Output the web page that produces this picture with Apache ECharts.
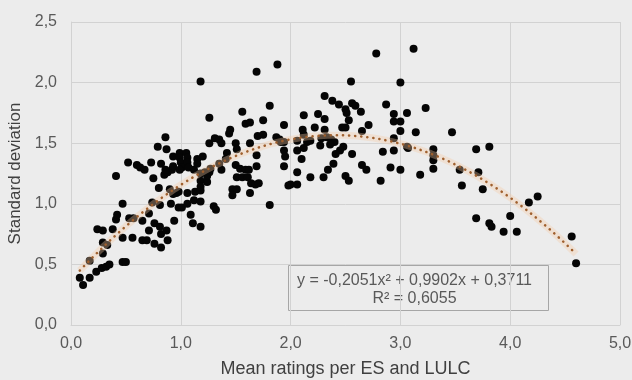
<!DOCTYPE html>
<html>
<head>
<meta charset="utf-8">
<script src="https://cdn.jsdelivr.net/npm/echarts@6/dist/echarts.min.js"></script>
<style>
  html, body { margin: 0; padding: 0; background: #ececec; }
  #chart { width: 632px; height: 380px; }
</style>
</head>
<body>
<div id="chart"></div>
<script>
// Mean rating (x) and standard deviation (y) per ES / LULC combination
const ratingsLow = [
  [0.08,0.39],[0.11,0.33],[0.17,0.39],[0.17,0.53],[0.23,0.44],[0.28,0.47],[0.32,0.48],[0.35,0.50],
  [0.24,0.79],[0.29,0.78],[0.29,0.68],[0.33,0.66],[0.29,0.59],[0.38,0.79],[0.41,0.87],[0.42,0.91],
  [0.47,1.00],[0.47,0.72],[0.47,0.52],[0.50,0.52],[0.41,1.23],[0.52,1.34],
  [0.56,0.72],[0.53,0.88],[0.57,0.88],[0.65,0.86],[0.71,0.92],[0.65,0.70],[0.69,0.70],[0.71,0.78],
  [0.76,0.84],[0.76,0.67],[0.82,0.64],[0.81,0.81],[0.82,0.75],[0.87,0.78],[0.88,0.70],[0.74,1.01],
  [0.81,0.99],[0.91,1.00],[0.94,0.86],[0.96,1.09],[0.60,1.32],[0.63,1.30],[0.67,1.28],[0.73,1.34],
  [0.82,1.33],[0.75,1.21],[0.80,1.13],[0.85,1.24],[0.88,1.26],[0.92,1.28],[0.93,1.31],[0.93,1.39],
  [0.86,1.55],[0.79,1.47],[0.87,1.45],[0.93,1.08],[0.98,1.10],[0.90,1.12],[0.98,0.97],[0.86,1.28],
  [0.99,1.42],[1.05,1.42],[0.99,1.38],[1.06,1.38],[1.00,1.34],[1.06,1.34],[1.01,1.30],[1.07,1.30],
  [0.99,1.28]
];
const ratingsMid = [
  [1.01,0.97],[1.06,1.00],[1.09,0.91],[1.11,0.84],[1.18,0.81],[1.12,1.03],[1.18,1.02],[1.30,0.98],
  [1.32,0.95],[1.06,1.09],[1.13,1.10],[1.18,1.11],[1.12,1.28],[1.18,1.25],[1.22,1.26],[1.18,1.19],
  [1.24,1.18],[1.18,1.14],[1.15,1.37],[1.20,1.39],[1.15,1.33],[1.26,1.50],[1.31,1.54],[1.35,1.53],
  [1.37,1.50],[1.26,1.26],[1.27,1.29],[1.18,2.01],[1.26,1.71],[1.35,1.33],[1.37,1.28],[1.24,1.23],
  [1.44,1.58],[1.45,1.61],[1.42,1.42],[1.41,1.37],[1.50,1.50],[1.51,1.45],[1.50,1.32],[1.54,1.29],
  [1.59,1.28],[1.62,1.28],[1.51,1.22],[1.56,1.22],[1.61,1.22],[1.64,1.17],[1.68,1.16],[1.71,1.17],
  [1.47,1.12],[1.51,1.12],[1.47,1.07],[1.63,1.09],[1.63,1.50],[1.69,1.40],[1.69,1.31],[1.70,1.56],
  [1.75,1.57],[1.87,1.55],[1.94,1.51],[1.94,1.44],[1.95,1.39],[1.94,1.31],[1.98,1.15],[1.81,0.99],
  [1.56,1.76],[1.59,1.66],[1.63,1.67],[1.75,1.69],[1.81,1.81],[1.69,2.09],[1.88,2.15],[1.91,1.51],
  [1.90,1.53],[1.94,1.65]
];
const ratingsHigh = [
  [2.00,1.16],[2.06,1.16],[2.06,1.52],[2.06,1.44],[2.06,1.26],[2.11,1.61],[2.12,1.57],[2.10,1.37],
  [2.15,1.51],[2.18,1.52],[2.12,1.46],[2.12,1.73],[2.22,1.63],[2.25,1.74],[2.31,1.70],[2.31,1.89],
  [2.31,1.61],[2.38,1.85],[2.44,1.82],[2.50,1.78],[2.51,1.75],[2.56,1.83],[2.59,1.81],[2.64,1.76],
  [2.53,1.69],[2.47,1.63],[2.50,1.63],[2.65,1.60],[2.71,1.65],[2.28,1.54],[2.33,1.55],[2.37,1.53],
  [2.40,1.51],[2.36,1.49],[2.27,1.48],[2.48,1.47],[2.45,1.44],[2.41,1.41],[2.56,1.41],[2.84,1.43],
  [2.94,1.44],[2.94,1.54],[2.39,1.33],[2.34,1.28],[2.65,1.32],[2.69,1.28],[2.91,1.30],[2.18,1.22],
  [2.30,1.22],[2.50,1.23],[2.53,1.19],[2.82,1.19],[2.55,2.01],[2.78,2.24],[2.87,1.82],[2.94,1.74],
  [2.94,1.68]
];
const ratingsTop = [
  [3.00,1.68],[3.00,2.00],[3.00,1.60],[3.00,1.28],[3.12,2.28],[3.06,1.75],[3.23,1.79],[3.14,1.59],
  [3.47,1.59],[3.06,1.47],[3.07,1.46],[3.30,1.45],[3.30,1.40],[3.30,1.36],[3.30,1.29],[3.69,1.45],
  [3.81,1.47],[3.18,1.24],[3.54,1.28],[3.71,1.26],[3.56,1.15],[3.75,1.12],[4.17,1.01],[4.25,1.06],
  [3.69,0.88],[3.81,0.84],[3.83,0.81],[4.00,0.90],[3.94,0.77],[4.06,0.77],[4.56,0.73],[4.60,0.51]
];

// Polynomial trendline (order 2) as printed in the label box
const trendCoef = [-0.2051, 0.9902, 0.3711];   // a, b, c  for  y = a·x² + b·x + c
const rSquared = 0.6055;

const xTicks = [0, 1, 2, 3, 4, 5];
const yTicks = [0, 0.5, 1, 1.5, 2, 2.5];

const xTitle = 'Mean ratings per ES and LULC';
const yTitle = 'Standard deviation';

const points = ratingsLow.concat(ratingsMid, ratingsHigh, ratingsTop);

// trendline spans the observed x range
const xs = points.map(p => p[0]);
const xMin = Math.min(...xs), xMax = Math.max(...xs);
const trend = [];
for (let i = 0; i <= 120; i++) {
  const x = xMin + (xMax - xMin) * i / 120;
  trend.push([x, trendCoef[0] * x * x + trendCoef[1] * x + trendCoef[2]]);
}

const comma = (v, d) => v.toFixed(d).replace('.', ',');
const fmtCoef = v => comma(Math.abs(v), 4);
const eqLine = 'y = ' + (trendCoef[0] < 0 ? '-' : '') + fmtCoef(trendCoef[0]) + 'x\u00b2 + ' +
  fmtCoef(trendCoef[1]) + 'x + ' + fmtCoef(trendCoef[2]);
const r2Line = 'R\u00b2 = ' + comma(rSquared, 4);

const font = '"Liberation Sans", Arial, sans-serif';
const gridColor = '#d2d2d2';

const chart = echarts.init(document.getElementById('chart'), null, { renderer: 'canvas' });
chart.setOption({
  backgroundColor: '#ececec',
  animation: false,
  grid: { left: 71, right: 12, top: 22, bottom: 55, containLabel: false, outerBoundsMode: 'none' },
  xAxis: {
    type: 'value', min: xTicks[0], max: xTicks[xTicks.length - 1], interval: 1,
    name: xTitle, nameLocation: 'middle', nameGap: 35,
    nameTextStyle: { fontFamily: font, fontSize: 18, color: '#404040' },
    axisLine: { show: true, lineStyle: { color: gridColor, width: 1 } },
    axisTick: { show: false },
    axisLabel: { margin: 11, fontFamily: font, fontSize: 16, color: '#595959',
      formatter: v => comma(v, 1) },
    splitLine: { show: true, lineStyle: { color: gridColor, width: 1 } }
  },
  yAxis: {
    type: 'value', min: yTicks[0], max: yTicks[yTicks.length - 1], interval: 0.5,
    name: yTitle, nameLocation: 'middle', nameGap: 47, nameRotate: 90,
    nameTextStyle: { fontFamily: font, fontSize: 17, color: '#404040' },
    axisLine: { show: true, lineStyle: { color: gridColor, width: 1 } },
    axisTick: { show: false },
    axisLabel: { margin: 14, fontFamily: font, fontSize: 16, color: '#595959',
      formatter: v => comma(v, 1) },
    splitLine: { show: true, lineStyle: { color: gridColor, width: 1 } }
  },
  series: [
    {
      type: 'scatter', data: points, symbol: 'circle', symbolSize: 8,
      itemStyle: { color: '#050505', opacity: 1 }, z: 2
    },
    {
      // soft halo under the trendline
      type: 'line', data: trend, showSymbol: false, smooth: false,
      lineStyle: { color: 'rgba(246,204,165,0.35)', width: 7 }, z: 3, silent: true
    },
    {
      type: 'line', data: trend, showSymbol: false, smooth: false,
      lineStyle: { color: '#a0602e', width: 2.6, type: [0.1, 6], cap: 'round' }, z: 4, silent: true
    }
  ],
  graphic: [
    {
      type: 'group', left: 288, top: 265, z: 10,
      children: [
        { type: 'rect', shape: { x: 0, y: 0, width: 260, height: 45 },
          style: { fill: '#ececec', stroke: '#a6a6a6', lineWidth: 1 } },
        { type: 'text', x: 126, y: 6,
          style: { text: eqLine + '\n' + r2Line, align: 'center', lineHeight: 18,
            font: '16px ' + font, fill: '#595959' } }
      ]
    }
  ]
});
</script>
</body>
</html>
